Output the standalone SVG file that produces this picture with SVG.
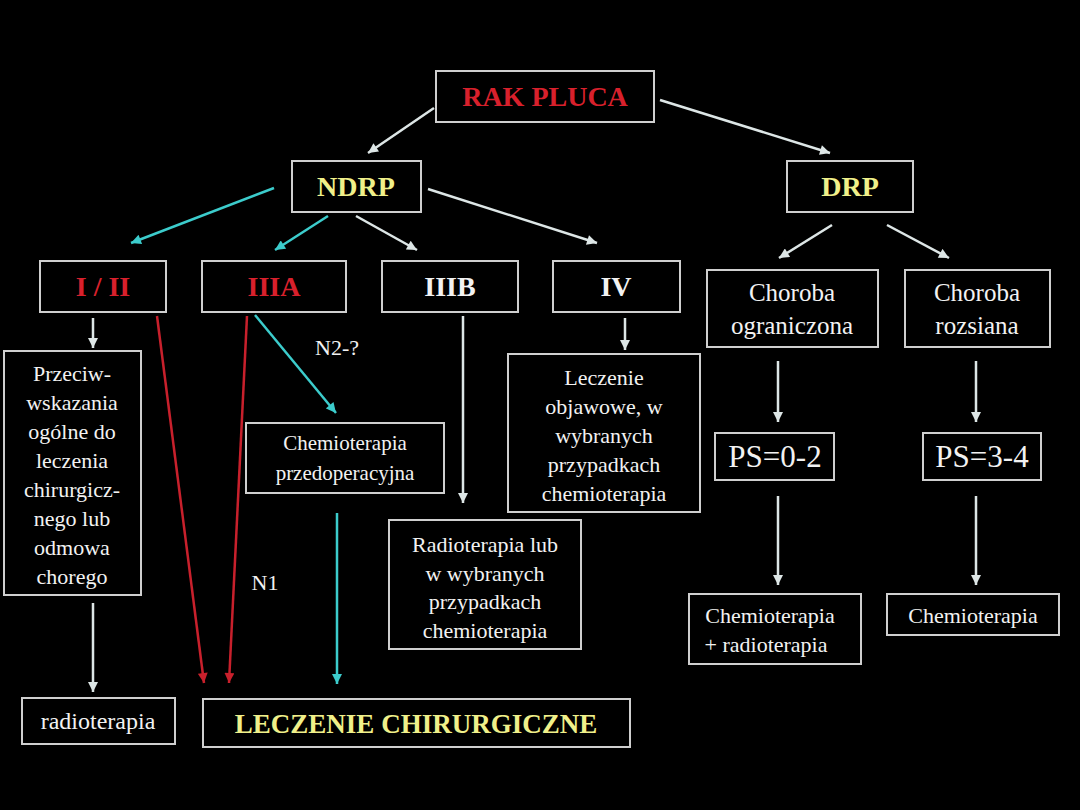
<svg xmlns="http://www.w3.org/2000/svg" width="1080" height="810" viewBox="0 0 1080 810">
<style>
.box{fill:#000;stroke:#cfcfcf;stroke-width:2}
text{font-family:"Liberation Serif","Times New Roman",serif;text-anchor:middle;fill:#f2f2f2}
.b{font-weight:bold}
.red{fill:#d8202c}
.yel{fill:#f0f08a}
.w{stroke:#dde6e6;stroke-width:2.5;fill:none;marker-end:url(#mw)}
.c{stroke:#3ccccc;stroke-width:2.5;fill:none;marker-end:url(#mc)}
.r{stroke:#c8202c;stroke-width:2.5;fill:none;marker-end:url(#mr)}
</style>
<defs>
<marker id="mw" viewBox="0 0 10 10" refX="10" refY="5" markerWidth="11" markerHeight="10" markerUnits="userSpaceOnUse" orient="auto"><path d="M0,0 L10,5 L0,10 z" fill="#dde6e6"/></marker>
<marker id="mc" viewBox="0 0 10 10" refX="10" refY="5" markerWidth="11" markerHeight="10" markerUnits="userSpaceOnUse" orient="auto"><path d="M0,0 L10,5 L0,10 z" fill="#3ccccc"/></marker>
<marker id="mr" viewBox="0 0 10 10" refX="10" refY="5" markerWidth="11" markerHeight="10" markerUnits="userSpaceOnUse" orient="auto"><path d="M0,0 L10,5 L0,10 z" fill="#c8202c"/></marker>
</defs>
<rect width="1080" height="810" fill="#000"/>
<g id="connectors">
<line class="w" x1="434" y1="108" x2="368" y2="153"/>
<line class="w" x1="660" y1="100" x2="830" y2="153"/>
<line class="c" x1="274" y1="188" x2="131" y2="243"/>
<line class="c" x1="328" y1="216" x2="275" y2="250"/>
<line class="w" x1="356" y1="216" x2="417" y2="250"/>
<line class="w" x1="428" y1="189" x2="597" y2="243"/>
<line class="w" x1="832" y1="225" x2="779" y2="258"/>
<line class="w" x1="887" y1="225" x2="949" y2="258"/>
<line class="w" x1="93" y1="318" x2="93" y2="348"/>
<line class="w" x1="93" y1="603" x2="93" y2="692"/>
<line class="r" x1="157" y1="316" x2="204" y2="683"/>
<line class="r" x1="247" y1="316" x2="229" y2="683"/>
<line class="c" x1="255" y1="315" x2="336" y2="413"/>
<line class="c" x1="337" y1="513" x2="337" y2="684"/>
<line class="w" x1="463" y1="316" x2="463" y2="503"/>
<line class="w" x1="625" y1="318" x2="625" y2="350"/>
<line class="w" x1="778" y1="361" x2="778" y2="422"/>
<line class="w" x1="778" y1="496" x2="778" y2="585"/>
<line class="w" x1="976" y1="361" x2="976" y2="422"/>
<line class="w" x1="976" y1="496" x2="976" y2="585"/>
<text x="337" y="355" font-size="22">N2-?</text>
<text x="265" y="590" font-size="22">N1</text>
</g>
<g id="rak"><rect class="box" x="436" y="71" width="218" height="51"/><text x="545" y="106" font-size="28" class="b red">RAK PLUCA</text></g>
<g id="ndrp"><rect class="box" x="292" y="161" width="129" height="51"/><text x="356" y="196" font-size="28" class="b yel">NDRP</text></g>
<g id="drp"><rect class="box" x="787" y="161" width="126" height="51"/><text x="850" y="196" font-size="28" class="b yel">DRP</text></g>
<g id="i_ii"><rect class="box" x="40" y="261" width="126" height="51"/><text x="103" y="296" font-size="28" class="b red">I / II</text></g>
<g id="iiia"><rect class="box" x="202" y="261" width="144" height="51"/><text x="274" y="296" font-size="28" class="b red">IIIA</text></g>
<g id="iiib"><rect class="box" x="382" y="261" width="136" height="51"/><text x="450" y="296" font-size="28" class="b">IIIB</text></g>
<g id="iv"><rect class="box" x="553" y="261" width="127" height="51"/><text x="616" y="296" font-size="28" class="b">IV</text></g>
<g id="ograniczona"><rect class="box" x="707" y="270" width="171" height="77"/><text x="792" y="301" font-size="25">Choroba</text><text x="792" y="334" font-size="25">ograniczona</text></g>
<g id="rozsiana"><rect class="box" x="905" y="270" width="145" height="77"/><text x="977" y="301" font-size="25">Choroba</text><text x="977" y="334" font-size="25">rozsiana</text></g>
<g id="przeciw"><rect class="box" x="4" y="351" width="137" height="244"/>
<text font-size="22"><tspan x="72" y="381">Przeciw-</tspan><tspan x="72" y="410">wskazania</tspan><tspan x="72" y="439">ogólne do</tspan><tspan x="72" y="468">leczenia</tspan><tspan x="72" y="497">chirurgicz-</tspan><tspan x="72" y="526">nego lub</tspan><tspan x="72" y="555">odmowa</tspan><tspan x="72" y="584">chorego</tspan></text></g>
<g id="przedop"><rect class="box" x="246" y="423" width="198" height="70"/>
<text font-size="21"><tspan x="345" y="450">Chemioterapia</tspan><tspan x="345" y="480">przedoperacyjna</tspan></text></g>
<g id="objawowe"><rect class="box" x="508" y="354" width="192" height="158"/>
<text font-size="22"><tspan x="604" y="385">Leczenie</tspan><tspan x="604" y="414">objawowe, w</tspan><tspan x="604" y="443">wybranych</tspan><tspan x="604" y="472">przypadkach</tspan><tspan x="604" y="501">chemioterapia</tspan></text></g>
<g id="radiolub"><rect class="box" x="389" y="520" width="192" height="129"/>
<text font-size="22"><tspan x="485" y="552">Radioterapia lub</tspan><tspan x="485" y="581">w wybranych</tspan><tspan x="485" y="609">przypadkach</tspan><tspan x="485" y="638">chemioterapia</tspan></text></g>
<g id="ps02"><rect class="box" x="715" y="433" width="119" height="47"/><text x="775" y="467" font-size="31">PS=0-2</text></g>
<g id="ps34"><rect class="box" x="923" y="433" width="118" height="47"/><text x="982" y="467" font-size="31">PS=3-4</text></g>
<g id="chemradio"><rect class="box" x="689" y="594" width="172" height="70"/>
<text font-size="22"><tspan x="770" y="623">Chemioterapia</tspan><tspan x="766" y="652">+ radioterapia</tspan></text></g>
<g id="chemio"><rect class="box" x="887" y="594" width="172" height="41"/><text x="973" y="623" font-size="22">Chemioterapia</text></g>
<g id="radioterapia"><rect class="box" x="22" y="698" width="153" height="46"/><text x="98" y="729" font-size="24">radioterapia</text></g>
<g id="leczenie"><rect class="box" x="203" y="699" width="427" height="48"/><text x="416" y="733" font-size="27" class="b yel">LECZENIE CHIRURGICZNE</text></g>
</svg>
